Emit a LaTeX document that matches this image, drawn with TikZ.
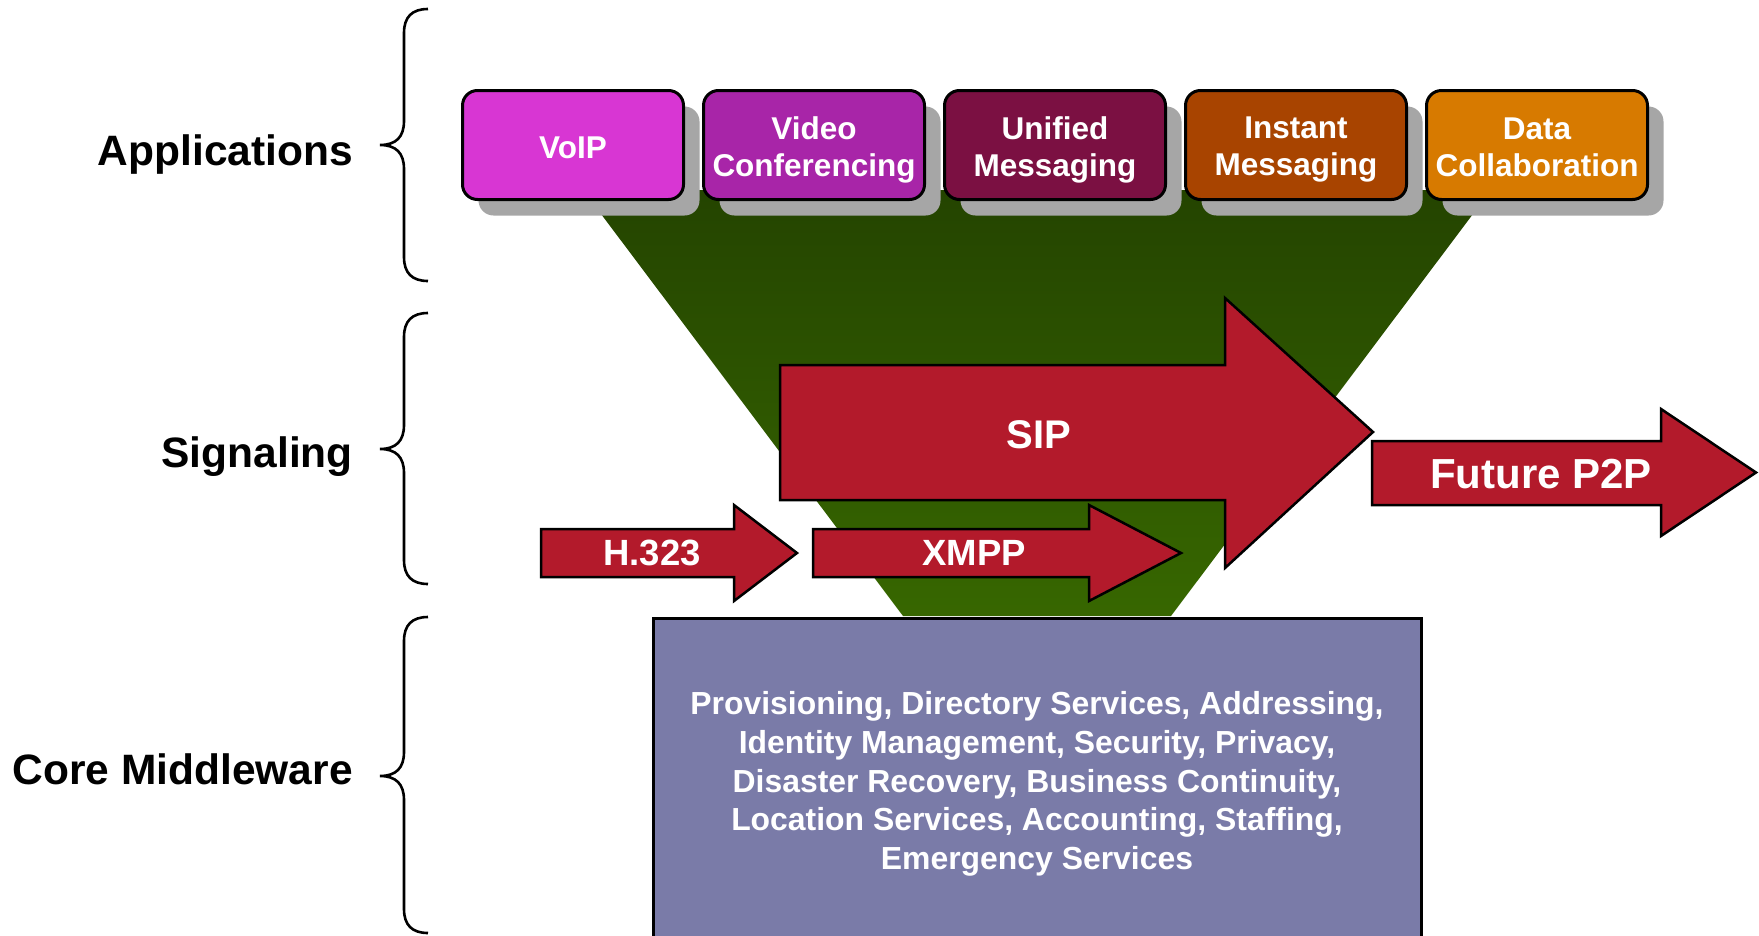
\documentclass[tikz,border=0pt]{standalone}
\usepackage{fontspec}
\setmainfont{Liberation Sans}
\usetikzlibrary{shadows}

\definecolor{voipc}{HTML}{D836D3}
\definecolor{videoc}{HTML}{A825A8}
\definecolor{unifiedc}{HTML}{7B1042}
\definecolor{instantc}{HTML}{A84400}
\definecolor{datac}{HTML}{D77A00}
\definecolor{arrowred}{HTML}{B31A2B}
\definecolor{corec}{HTML}{7A7BA8}
\definecolor{shadowgray}{HTML}{A6A6A6}
\definecolor{greentop}{HTML}{244400}
\definecolor{greenbot}{HTML}{376700}

\tikzset{
  appbox/.style={draw=black, line width=3pt, rounded corners=15pt,
    minimum width=221pt, minimum height=109pt, inner sep=0pt,
    drop shadow={shadow xshift=16pt, shadow yshift=-16pt,
      fill=shadowgray, opacity=1}},
  apptext/.style={text=white, align=center, inner sep=0pt,
    font=\fontsize{31.5}{37}\selectfont\bfseries},
  layerlabel/.style={anchor=base east, inner sep=0pt,
    font=\fontsize{42.5}{48}\selectfont\bfseries},
  brace/.style={draw=black, line width=2.6pt},
  bigarrow/.style={draw=black, line width=2.5pt, fill=arrowred, line join=miter},
  arrowtext/.style={text=white, inner sep=0pt},
}

\begin{document}
\begin{tikzpicture}[x=1pt, y=-1pt]
\useasboundingbox (0,0) rectangle (1759,935);
\clip (0,0) rectangle (1759,935);

% funnel behind everything
\shade[top color=greentop, bottom color=greenbot]
  (583,190) -- (1491,190) -- (1171,616) -- (903,616) -- cycle;

% layer braces
\draw[brace] (428,9) .. controls (412,9) and (404,17) .. (404,33)
  -- (404,121) .. controls (404,137) and (396,145) .. (380,145)
  .. controls (396,145) and (404,153) .. (404,169)
  -- (404,257) .. controls (404,273) and (412,281) .. (428,281);
\draw[brace] (428,313) .. controls (412,313) and (404,321) .. (404,337)
  -- (404,425) .. controls (404,441) and (396,449) .. (380,449)
  .. controls (396,449) and (404,457) .. (404,473)
  -- (404,560) .. controls (404,576) and (412,584) .. (428,584);
\draw[brace] (428,617) .. controls (412,617) and (404,625) .. (404,641)
  -- (404,752) .. controls (404,768) and (396,776) .. (380,776)
  .. controls (396,776) and (404,784) .. (404,800)
  -- (404,909) .. controls (404,925) and (412,933) .. (428,933);

% layer labels
\node[layerlabel] (lapps) at (353,165) {Applications};
\node[layerlabel] (lsig) at (353,467) {Signaling};
\node[layerlabel] (lcore) at (353,784) {Core Middleware};

% application boxes
\node[appbox, fill=voipc] (voip) at (573,145) {};
\node[appbox, fill=videoc] (video) at (814,145) {};
\node[appbox, fill=unifiedc] (unified) at (1055,145) {};
\node[appbox, fill=instantc] (instant) at (1296,145) {};
\node[appbox, fill=datac] (data) at (1537,145) {};
\node[apptext] (voiptext) at ([yshift=-2.5pt]voip.center) {VoIP};
\node[apptext] (videotext) at ([yshift=-4.5pt]video.center) {Video\\Conferencing};
\node[apptext] (unifiedtext) at ([yshift=-4.5pt]unified.center) {Unified\\Messaging};
\node[apptext] (instanttext) at ([yshift=-4.5pt]instant.center) {Instant\\Messaging};
\node[apptext] (datatext) at ([yshift=-2.5pt]data.center) {Data\\Collaboration};

% core middleware block
\node[draw=black, line width=2.5pt, fill=corec, minimum width=768pt,
  minimum height=340pt, anchor=north west, inner sep=0pt] (core) at (652,617) {};
\node[text=white, align=center, inner sep=0pt,
  font=\fontsize{31.9}{38.7}\selectfont\bfseries] (coretext) at (1037,784)
  {Provisioning, Directory Services, Addressing,\\
   Identity Management, Security, Privacy,\\
   Disaster Recovery, Business Continuity,\\
   Location Services, Accounting, Staffing,\\
   Emergency Services};

% signaling arrows
\draw[bigarrow] (780,365) -- (1225,365) -- (1225,298) -- (1373,432)
  -- (1225,568) -- (1225,500) -- (780,500) -- cycle;
\node[arrowtext, font=\fontsize{40}{44}\selectfont\bfseries] (sip) at (1039,435) {SIP};

\draw[bigarrow] (1372,441) -- (1661,441) -- (1661,409) -- (1756,472.5)
  -- (1661,536) -- (1661,505) -- (1372,505) -- cycle;
\node[arrowtext, font=\fontsize{42}{46}\selectfont\bfseries] (p2p) at (1541,474) {Future P2P};

\draw[bigarrow] (541,529) -- (734,529) -- (734,505) -- (797,553)
  -- (734,601) -- (734,577) -- (541,577) -- cycle;
\node[arrowtext, font=\fontsize{36.5}{40}\selectfont\bfseries] (h323) at (652,553) {H.323};

\draw[bigarrow] (813,529) -- (1089,529) -- (1089,505) -- (1181,553)
  -- (1089,601) -- (1089,577) -- (813,577) -- cycle;
\node[arrowtext, font=\fontsize{36.5}{40}\selectfont\bfseries] (xmpp) at (974,553) {XMPP};
\end{tikzpicture}
\end{document}
